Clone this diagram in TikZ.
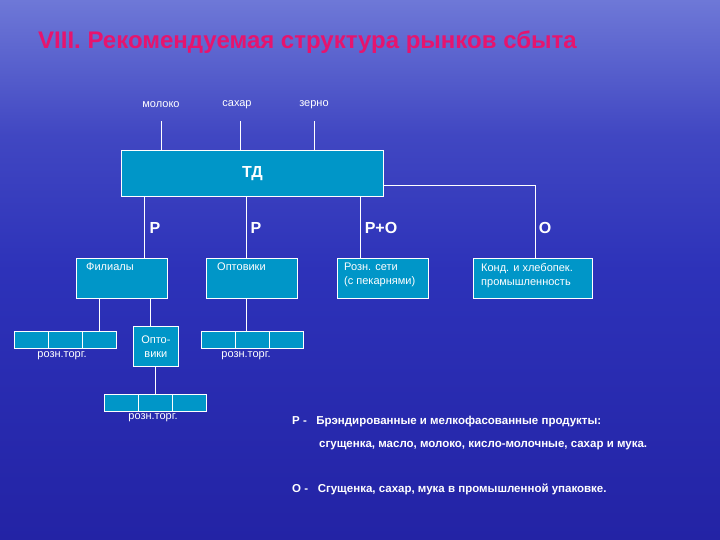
\documentclass[tikz,border=0pt]{standalone}
\usepackage{fontspec}
\setmainfont{Liberation Sans}
\definecolor{bgtop}{RGB}{110,120,215}
\definecolor{bgmid}{RGB}{45,50,185}
\definecolor{bgbot}{RGB}{35,35,165}
\definecolor{boxc}{RGB}{0,150,200}
\definecolor{titlec}{RGB}{230,20,110}
\begin{document}
\begin{tikzpicture}[x=1pt,y=-1pt,
  bx/.style={draw=white,fill=boxc,line width=0.8pt},
  ln/.style={draw=white,line width=0.8pt},
  lbl/.style={text=white,font=\fontsize{11}{14}\selectfont,inner sep=1pt},
  big/.style={text=white,font=\fontsize{16}{18}\selectfont\bfseries,inner sep=1pt},
  leg/.style={text=white,font=\fontsize{11.5}{14}\selectfont\bfseries,inner sep=0pt,anchor=west}]
\shade[top color=bgtop,bottom color=bgmid,middle color=bgmid!70!bgtop] (0,0) rectangle (720,270);
\shade[top color=bgmid,bottom color=bgbot] (0,270) rectangle (720,540);
\useasboundingbox (0,0) rectangle (720,540);
\node[anchor=west,text=titlec,font=\fontsize{24}{28}\selectfont\bfseries,inner sep=0pt] (title) at (38,42) {VIII. Рекомендуемая структура рынков сбыта};
% inputs
\node[lbl] (m) at (161,105) {молоко};
\node[lbl] (s) at (237,105) {сахар};
\node[lbl] (z) at (314,105) {зерно};
\node[bx,minimum width=262,minimum height=46,anchor=north west] (td) at (121,150) {};
\node[big] at (td.center) {ТД};
\coordinate (m1) at (161,121); \coordinate (s1) at (240,121); \coordinate (z1) at (314,121);
\draw[ln] (m1) -- (161,150); \draw[ln] (s1) -- (240,150); \draw[ln] (z1) -- (314,150);
% second level boxes
\node[bx,minimum width=91,minimum height=40,anchor=north west] (fil) at (76,258) {};
\node[lbl,anchor=north west] at (85,262) {Филиалы};
\node[bx,minimum width=91,minimum height=40,anchor=north west] (opt) at (206,258) {};
\node[lbl,anchor=north west] at (216,262) {Оптовики};
\node[bx,minimum width=91,minimum height=40,anchor=north west] (roz) at (337,258) {};
\node[lbl,anchor=north west,align=left] at (343,262) {Розн. сети\\(с пекарнями)};
\node[bx,minimum width=119,minimum height=40,anchor=north west] (kon) at (473,258) {};
\node[lbl,anchor=north west,align=left] at (480,262) {Конд. и хлебопек.\\промышленность};
\draw[ln] (144,196) -- (144,258);
\draw[ln] (246,196) -- (246,258);
\draw[ln] (360,196) -- (360,258);
\draw[ln] (383,185) -- (535,185) -- (535,258);
\node[big] at (155,228) {Р};
\node[big] at (256,228) {Р};
\node[big] at (381,228) {Р+О};
\node[big] at (545,228) {О};
% bars
\foreach \n/\x/\y in {b1/14/331,b2/201/331,b3/104/394}{
  \node[bx,minimum width=102,minimum height=17,anchor=north west] (\n) at (\x,\y) {};
  \draw[ln] (\x+34,\y) -- (\x+34,\y+17);
  \draw[ln] (\x+68,\y) -- (\x+68,\y+17);
}
\node[lbl] at (62,356) {розн.торг.};
\node[lbl] at (246,356) {розн.торг.};
\node[lbl] at (153,418) {розн.торг.};
\node[bx,minimum width=45,minimum height=40,anchor=north west] (opt2) at (133,326) {};
\node[lbl,align=center,font=\fontsize{11}{14}\selectfont] at (opt2.center) {Опто-\\вики};
\draw[ln] (99,298) -- (99,331);
\draw[ln] (150,298) -- (150,326);
\draw[ln] (155,366) -- (155,394);
\draw[ln] (246,298) -- (246,331);
% legend
\node[leg] (l1) at (292,422) {Р -\ \ \ Брэндированные и мелкофасованные продукты:};
\node[leg] (l2) at (319,446) {сгущенка, масло, молоко, кисло-молочные,\ сахар и мука.};
\node[leg] (l3) at (292,489) {О -\ \ \ Сгущенка, сахар, мука в промышленной упаковке.};
\end{tikzpicture}
\end{document}
